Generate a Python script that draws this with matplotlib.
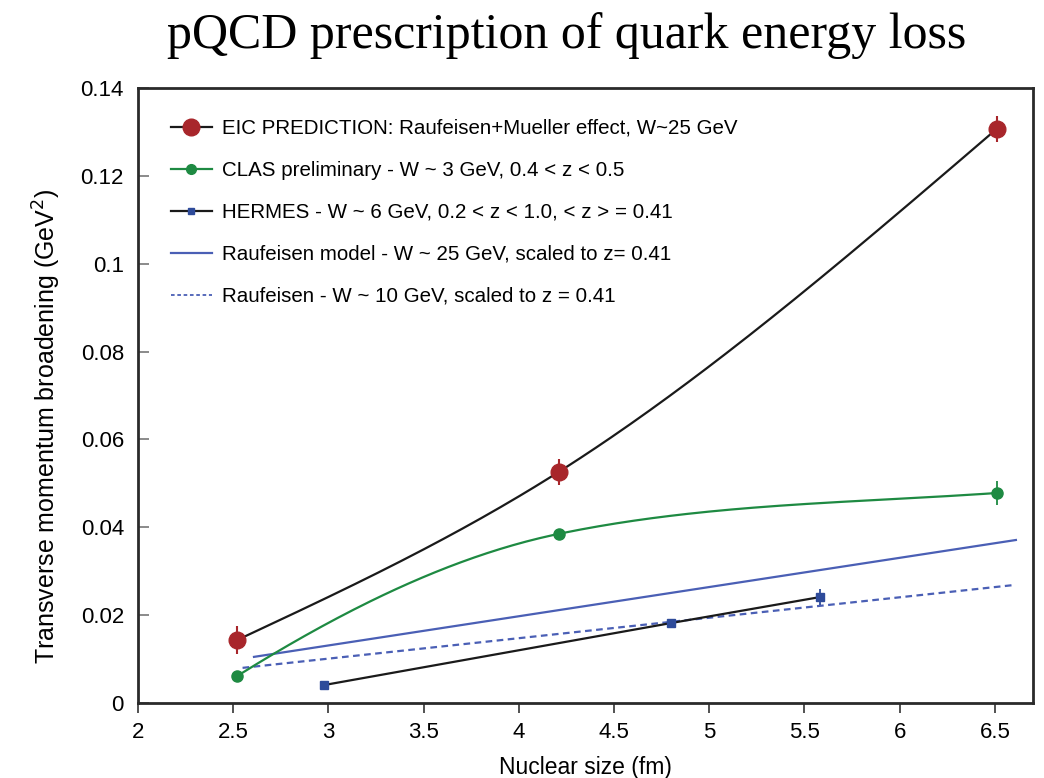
import numpy as np
import matplotlib
matplotlib.use("Agg")
import matplotlib.pyplot as plt
from matplotlib.lines import Line2D

# Nuclear size (fm) and transverse momentum broadening (GeV^2)
eic_x = [2.52, 4.21, 6.51]
eic_y = [0.0143, 0.0526, 0.1307]
eic_err = [0.0032, 0.0030, 0.0030]

clas_x = [2.52, 4.21, 6.51]
clas_y = [0.0061, 0.0385, 0.0478]
clas_err = [0.0012, 0.0010, 0.0028]
# slope of the smooth CLAS curve at each measured point
clas_slopes = [0.027, 0.009, 0.003]

hermes_x = [2.98, 4.80, 5.58]
hermes_y = [0.0041, 0.0182, 0.0241]
hermes_err = [0.0006, 0.0010, 0.0018]

rauf25_x = [2.61, 6.61]
rauf25_y = [0.0105, 0.0371]

rauf10_x = [2.55, 6.61]
rauf10_y = [0.0080, 0.0269]

labels = [
    "EIC PREDICTION: Raufeisen+Mueller effect, W~25 GeV",
    "CLAS preliminary - W ~ 3 GeV, 0.4 < z < 0.5",
    "HERMES - W ~ 6 GeV, 0.2 < z < 1.0, < z > = 0.41",
    "Raufeisen model - W ~ 25 GeV, scaled to z= 0.41",
    "Raufeisen - W ~ 10 GeV, scaled to z = 0.41",
]

RED = "#a8262b"
GREEN = "#1e8a42"
BLUE_MK = "#2e4b9a"
BLUE_LN = "#4a5fb5"


def natural_spline(xs, ys, n=200):
    """Natural cubic spline through the given knots."""
    xs = np.asarray(xs, float)
    ys = np.asarray(ys, float)
    k = len(xs)
    h = np.diff(xs)
    A = np.zeros((k, k))
    b = np.zeros(k)
    A[0, 0] = A[-1, -1] = 1.0
    for i in range(1, k - 1):
        A[i, i - 1] = h[i - 1]
        A[i, i] = 2 * (h[i - 1] + h[i])
        A[i, i + 1] = h[i]
        b[i] = 6 * ((ys[i + 1] - ys[i]) / h[i] - (ys[i] - ys[i - 1]) / h[i - 1])
    M = np.linalg.solve(A, b)
    xx = np.linspace(xs[0], xs[-1], n)
    yy = np.empty_like(xx)
    for j, x in enumerate(xx):
        i = min(np.searchsorted(xs, x, side="right") - 1, k - 2)
        t1 = xs[i + 1] - x
        t0 = x - xs[i]
        yy[j] = (M[i] * t1 ** 3 + M[i + 1] * t0 ** 3) / (6 * h[i]) \
            + (ys[i] / h[i] - M[i] * h[i] / 6) * t1 \
            + (ys[i + 1] / h[i] - M[i + 1] * h[i] / 6) * t0
    return xx, yy


def hermite_curve(xs, ys, ms, n=100):
    """Cubic Hermite curve through knots with prescribed slopes."""
    out_x, out_y = [], []
    for i in range(len(xs) - 1):
        h = xs[i + 1] - xs[i]
        t = np.linspace(0, 1, n)
        h00 = 2 * t ** 3 - 3 * t ** 2 + 1
        h10 = t ** 3 - 2 * t ** 2 + t
        h01 = -2 * t ** 3 + 3 * t ** 2
        h11 = t ** 3 - t ** 2
        out_x.append(xs[i] + t * h)
        out_y.append(h00 * ys[i] + h10 * h * ms[i] + h01 * ys[i + 1] + h11 * h * ms[i + 1])
    return np.concatenate(out_x), np.concatenate(out_y)


plt.rcParams["font.family"] = ["Liberation Sans", "DejaVu Sans"]

fig = plt.figure(figsize=(10.44, 7.78), dpi=100)
ax = fig.add_axes([0.132, 0.0964, 0.8575, 0.7906])

# EIC prediction
sx, sy = natural_spline(eic_x, eic_y)
ax.plot(sx, sy, color="#1a1a1a", lw=1.6, zorder=3)
ax.errorbar(eic_x, eic_y, yerr=eic_err, fmt="o", color=RED, ms=12,
            elinewidth=1.5, capsize=0, zorder=5)

# CLAS
sx, sy = hermite_curve(clas_x, clas_y, clas_slopes)
ax.plot(sx, sy, color=GREEN, lw=1.6, zorder=3)
ax.errorbar(clas_x, clas_y, yerr=clas_err, fmt="o", color=GREEN, ms=8,
            elinewidth=1.3, capsize=0, zorder=5)

# HERMES
ax.plot(hermes_x, hermes_y, color="#1a1a1a", lw=1.6, zorder=3)
ax.errorbar(hermes_x, hermes_y, yerr=hermes_err, fmt="s", color=BLUE_MK, ms=5.5,
            elinewidth=1.3, capsize=0, zorder=5)

# Raufeisen models
ax.plot(rauf25_x, rauf25_y, color=BLUE_LN, lw=1.6, zorder=2)
ax.plot(rauf10_x, rauf10_y, color=BLUE_LN, lw=1.6, ls=(0, (3, 2)), zorder=2)

ax.set_xlim(2, 6.7)
ax.set_ylim(0, 0.14)
ax.set_xticks([2, 2.5, 3, 3.5, 4, 4.5, 5, 5.5, 6, 6.5])
ax.set_xticklabels(["2", "2.5", "3", "3.5", "4", "4.5", "5", "5.5", "6", "6.5"])
ax.set_yticks([0, 0.02, 0.04, 0.06, 0.08, 0.1, 0.12, 0.14])
ax.set_yticklabels(["0", "0.02", "0.04", "0.06", "0.08", "0.1", "0.12", "0.14"])
ax.tick_params(axis="x", direction="out", length=7, width=1.2, labelsize=16,
               pad=7, color="#333333")
ax.tick_params(axis="y", direction="in", length=8, width=1.2, labelsize=16,
               pad=10, color="#777777")
for s in ax.spines.values():
    s.set_linewidth(2.0)
    s.set_color("#2a2a2a")

ax.set_xlabel("Nuclear size (fm)", fontsize=16.5, labelpad=9)
ax.set_ylabel("Transverse momentum broadening (GeV$^2$)", fontsize=18)
ax.yaxis.set_label_coords(-0.084, 0.45)

handles = [
    Line2D([], [], color="#1a1a1a", lw=1.6, marker="o", ms=12,
           markerfacecolor=RED, markeredgecolor=RED),
    Line2D([], [], color=GREEN, lw=1.6, marker="o", ms=7,
           markerfacecolor=GREEN, markeredgecolor=GREEN),
    Line2D([], [], color="#1a1a1a", lw=1.6, marker="s", ms=5,
           markerfacecolor=BLUE_MK, markeredgecolor=BLUE_MK),
    Line2D([], [], color=BLUE_LN, lw=1.6),
    Line2D([], [], color=BLUE_LN, lw=1.3, ls=(0, (2, 1.5))),
]
ax.legend(handles, labels, loc="upper left", bbox_to_anchor=(0.016, 0.98),
          frameon=False, fontsize=14.8, handlelength=2.0, handletextpad=0.5,
          labelspacing=1.12)

fig.text(0.543, 0.954, "pQCD prescription of quark energy loss",
         family=["Liberation Serif", "DejaVu Serif"], fontsize=36,
         ha="center", va="center")

fig.savefig("out.png", dpi=100)
